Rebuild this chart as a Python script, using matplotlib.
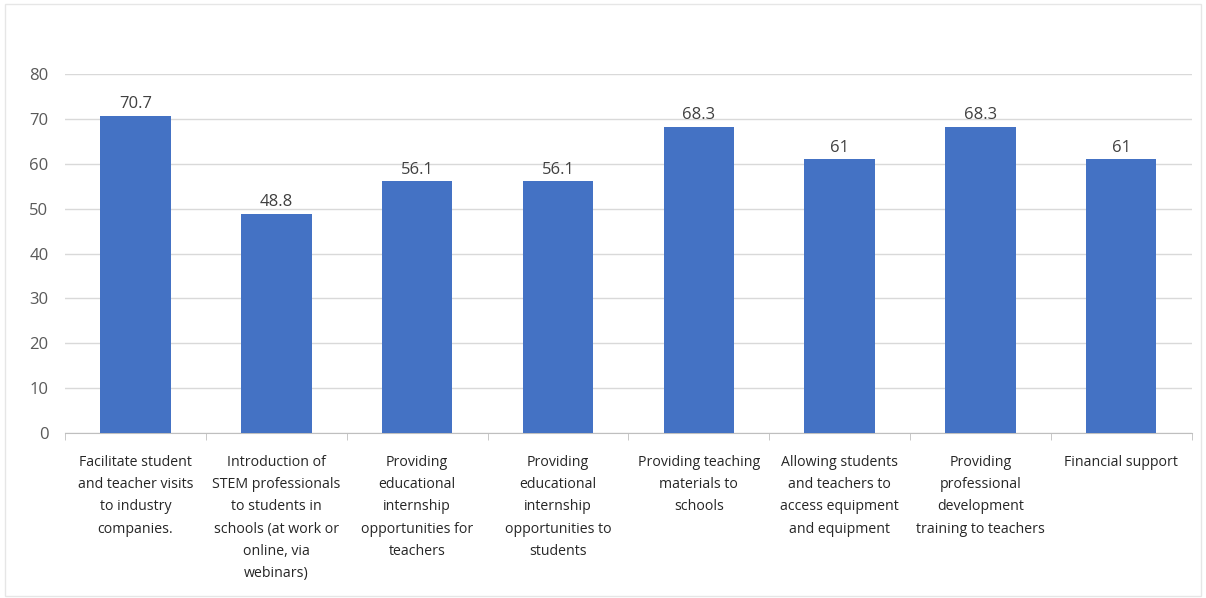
import matplotlib.pyplot as plt
import matplotlib.patches as mpatches
import numpy as np

categories = [
    "Facilitate student\nand teacher visits\nto industry\ncompanies.",
    "Introduction of\nSTEM professionals\nto students in\nschools (at work or\nonline, via\nwebinars)",
    "Providing\neducational\ninternship\nopportunities for\nteachers",
    "Providing\neducational\ninternship\nopportunities to\nstudents",
    "Providing teaching\nmaterials to\nschools",
    "Allowing students\nand teachers to\naccess equipment\nand equipment",
    "Providing\nprofessional\ndevelopment\ntraining to teachers",
    "Financial support",
]
values = [70.7, 48.8, 56.1, 56.1, 68.3, 61, 68.3, 61]
value_labels = ["70.7", "48.8", "56.1", "56.1", "68.3", "61", "68.3", "61"]
yticks = [0, 10, 20, 30, 40, 50, 60, 70, 80]

plt.rcParams['font.family'] = ['Open Sans', 'DejaVu Sans']

fig = plt.figure(figsize=(12.06, 5.98), dpi=100)
ax = fig.add_axes([0.054, 0.276, 0.934, 0.6])

x = np.arange(len(values))
ax.bar(x, values, width=0.5, color='#4472C4', zorder=3)

# data labels above bars
for xi, v, lab in zip(x, values, value_labels):
    ax.text(xi, v + 0.8, lab, ha='center', va='bottom', fontsize=12, color='#404040')

ax.set_xlim(-0.5, len(values) - 0.5)
ax.set_ylim(0, 80)
ax.set_yticks(yticks)
ax.yaxis.grid(True, color='#d9d9d9', linewidth=1, zorder=0)
ax.tick_params(axis='y', length=0, labelsize=12, labelcolor='#595959', pad=12)

# category labels, tick marks at category boundaries
ax.set_xticks(x)
ax.set_xticklabels(categories, fontsize=10.2, color='#262626', linespacing=1.65)
ax.tick_params(axis='x', which='major', length=0, pad=16)
ax.set_xticks(np.arange(len(values) + 1) - 0.5, minor=True)
ax.tick_params(axis='x', which='minor', length=5, color='#bfbfbf')

for side in ['top', 'right', 'left']:
    ax.spines[side].set_visible(False)
ax.spines['bottom'].set_color('#bfbfbf')

# light frame around the chart area
fig.patches.append(mpatches.Rectangle((0.004, 0.004), 0.992, 0.99, transform=fig.transFigure,
                                      fill=False, edgecolor='#e6e6e6', linewidth=1))

fig.savefig('out.png', dpi=100)
